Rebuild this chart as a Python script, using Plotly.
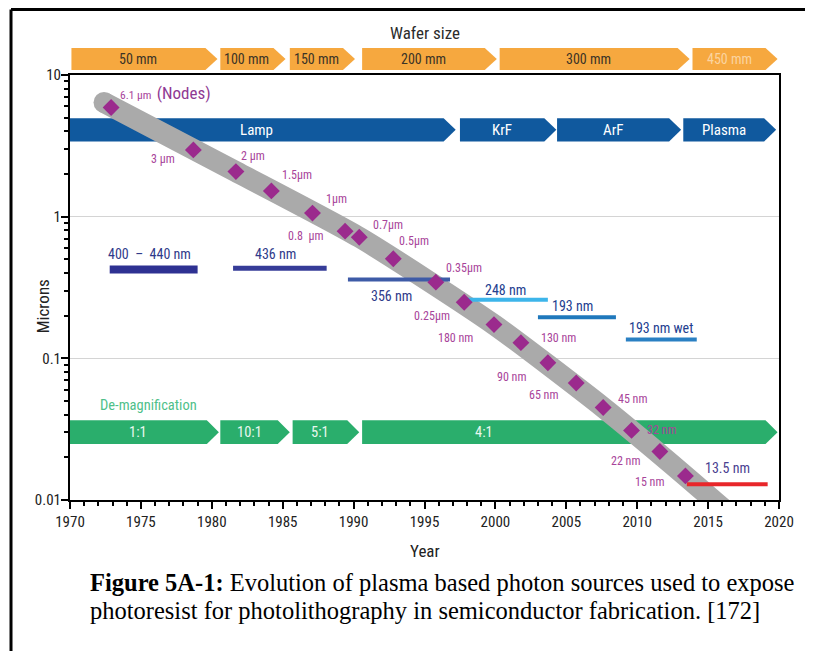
import math
import plotly.graph_objects as go

# ---------------- data ----------------
node_labels = ["6.1 µm", "3 µm", "2 µm", "1.5µm", "1µm", "0.8  µm", "0.7µm", "0.5µm", "0.35µm",
               "0.25µm", "180 nm", "130 nm", "90 nm", "65 nm", "45 nm", "32 nm", "22 nm", "15 nm"]
node_years = [1972.9, 1978.7, 1981.7, 1984.2, 1987.1, 1989.4, 1990.4, 1992.8, 1995.8,
              1997.8, 1999.9, 2001.8, 2003.7, 2005.7, 2007.6, 2009.6, 2011.6, 2013.4]
node_microns = [5.9, 2.96, 2.08, 1.52, 1.06, 0.79, 0.715, 0.504, 0.345,
                0.249, 0.173, 0.129, 0.093, 0.067, 0.045, 0.031, 0.022, 0.0148]

band_years = [1972.4, 1981.7, 1990.4, 1999.9, 2007.6, 2013.4, 2017.0]
band_microns = [6.4, 2.08, 0.715, 0.173, 0.045, 0.0148, 0.0072]

wafer_labels = ["50 mm", "100 mm", "150 mm", "200 mm", "300 mm", "450 mm"]
wafer_start = [1970.1, 1980.6, 1985.5, 1990.6, 2000.3, 2013.9]
wafer_end = [1980.4, 1985.2, 1990.1, 2000.1, 2013.7, 2019.9]

source_labels = ["Lamp", "KrF", "ArF", "Plasma"]
source_start = [1970.0, 1997.5, 2004.35, 2013.25]
source_end = [1997.2, 2004.3, 2013.1, 2019.8]

demag_labels = ["1:1", "10:1", "5:1", "4:1"]
demag_start = [1970.0, 1980.6, 1985.7, 1990.6]
demag_end = [1980.5, 1985.5, 1990.4, 2019.9]

wl_labels = ["400  –  440 nm", "436 nm", "356 nm", "248 nm", "193 nm", "193 nm wet", "13.5 nm"]
wl_start = [1972.8, 1981.5, 1989.6, 1997.6, 2003.0, 2009.2, 2013.5]
wl_end = [1979.0, 1988.1, 1996.8, 2003.7, 2008.5, 2014.2, 2019.2]
wl_microns = [0.424, 0.432, 0.36, 0.259, 0.195, 0.136, 0.0129]

x_tick_vals = [1970, 1975, 1980, 1985, 1990, 1995, 2000, 2005, 2010, 2015, 2020]
y_tick_vals = [0.01, 0.1, 1, 10]
y_tick_text = ["0.01", "0.1", "1", "10"]

caption_bold = "Figure 5A-1:"
caption_line1 = " Evolution of plasma based photon sources used to expose"
caption_line2 = "photoresist for photolithography in semiconductor fabrication. [172]"

# ---------------- styles ----------------
NARROW = "Liberation Sans Narrow, Arial Narrow, Roboto Condensed, DejaVu Sans Condensed, Liberation Sans, sans-serif"
SERIF = "Liberation Serif, Times New Roman, serif"
ORANGE = "#f6a83f"
BLUE = "#10599e"
GREEN = "#2aae6c"
PURPLE = "#9b2a8d"
PURPLE_TXT = "#a8449a"
GRAY = "#aaaaaa"

wl_colors = ["#2e3192", "#363c98", "#3e5ba7", "#3db5ea", "#1f78bc", "#2a80c3", "#e8262a"]
wl_widths = [8, 5, 4, 4, 4, 4, 4]
wl_text_colors = ["#2f3a8a", "#2f3a8a", "#2f3a8a", "#23408f", "#23408f", "#23408f", "#4a4090"]
wl_shift = [(-4, 15), (-4, 14), (-7, -16), (1, 10), (-4, 11), (0, 11), (0, 16)]

node_shift = [(7, 14), (-30, -9), (17, 16), (26, 16), (24, 14), (-39, -5), (29, 12), (21, 18),
              (28, 14), (-32, -14), (-38, -13), (38, 5), (-36, -14), (-33, -12), (29, 8),
              (30, 0), (-34, -10), (-36, -6)]

LAMP_ROW = (3.39, 4.96)
DEMAG_ROW = (0.0248, 0.0366)
WAFER_ROW = (1.0118, 1.0635)   # paper units
TIP = 0.85


def arrow_xy(x0, x1, ylo, yhi, tip=TIP):
    ymid = math.sqrt(ylo * yhi)
    return [x0, x1 - tip, x1, x1 - tip, x0, x0], [ylo, ylo, ymid, yhi, yhi, ylo]


def txt(**kw):
    d = dict(showarrow=False, xanchor="center", yanchor="middle")
    d.update(kw)
    return d


fig = go.Figure()

# source row (lamp etc.)
for s, e in zip(source_start, source_end):
    xs, ys = arrow_xy(s, e, *LAMP_ROW)
    fig.add_trace(go.Scatter(x=xs, y=ys, fill="toself", fillcolor=BLUE, mode="lines",
                             line=dict(width=0, color=BLUE), hoverinfo="skip", showlegend=False))

# de-magnification row
for s, e in zip(demag_start, demag_end):
    xs, ys = arrow_xy(s, e, *DEMAG_ROW)
    fig.add_trace(go.Scatter(x=xs, y=ys, fill="toself", fillcolor=GREEN, mode="lines",
                             line=dict(width=0, color=GREEN), hoverinfo="skip", showlegend=False))

# gray trend band
fig.add_trace(go.Scatter(x=band_years, y=band_microns, mode="lines",
                         line=dict(color=GRAY, width=21, shape="spline", smoothing=0.6),
                         hoverinfo="skip", showlegend=False))
fig.add_trace(go.Scatter(x=band_years[:1], y=band_microns[:1], mode="markers",
                         marker=dict(color=GRAY, size=21, line=dict(width=0)),
                         hoverinfo="skip", showlegend=False))

# wavelength bars
for s, e, v, c, w in zip(wl_start, wl_end, wl_microns, wl_colors, wl_widths):
    fig.add_trace(go.Scatter(x=[s, e], y=[v, v], mode="lines", line=dict(color=c, width=w),
                             hoverinfo="skip", showlegend=False))

# nodes
fig.add_trace(go.Scatter(x=node_years, y=node_microns, mode="markers",
                         marker=dict(symbol="diamond", size=13, color=PURPLE, line=dict(width=0)),
                         showlegend=False, text=node_labels, hoverinfo="text"))

ann = []
shapes = []

# wafer row shapes + labels
for i, (lab, s, e) in enumerate(zip(wafer_labels, wafer_start, wafer_end)):
    ylo, yhi = WAFER_ROW
    ym = (ylo + yhi) / 2
    path = (f"M {s},{ylo} L {e - TIP},{ylo} L {e},{ym} L {e - TIP},{yhi} L {s},{yhi} Z")
    shapes.append(dict(type="path", path=path, xref="x", yref="paper", fillcolor=ORANGE,
                       line=dict(width=0)))
    col = "#fbd4a0" if i == len(wafer_labels) - 1 else "#3b3326"
    ann.append(txt(x=(s + e - TIP) / 2, y=ym, xref="x", yref="paper", text=lab,
                   font=dict(family=NARROW, size=14, color=col)))

ann.append(txt(x=1995.0, y=1.0988, xref="x", yref="paper", text="Wafer size",
               font=dict(family=NARROW, size=17, color="#2b2b2b")))

# source labels
for lab, s, e in zip(source_labels, source_start, source_end):
    ann.append(txt(x=(s + e - TIP) / 2, y=math.log10(math.sqrt(LAMP_ROW[0] * LAMP_ROW[1])),
                   xref="x", yref="y", text=lab,
                   font=dict(family=NARROW, size=15, color="white")))

# demag labels
for lab, s, e in zip(demag_labels, demag_start, demag_end):
    cx = (s + e - TIP) / 2
    if lab == "4:1":
        cx = s + 8.6
    ann.append(txt(x=cx, y=math.log10(math.sqrt(DEMAG_ROW[0] * DEMAG_ROW[1])),
                   xref="x", yref="y", text=lab,
                   font=dict(family=NARROW, size=14.5, color="#e8f7ee")))
ann.append(txt(x=1972.0, y=math.log10(DEMAG_ROW[1]), xref="x", yref="y", text="De-magnification",
               xanchor="left", yanchor="bottom", yshift=4,
               font=dict(family=NARROW, size=14.5, color="#4fbf8a")))

# wavelength labels
for lab, s, e, v, tc, (dx, dy) in zip(wl_labels, wl_start, wl_end, wl_microns, wl_text_colors, wl_shift):
    ann.append(txt(x=(s + e) / 2, y=math.log10(v), xref="x", yref="y", text=lab,
                   xshift=dx, yshift=dy, font=dict(family=NARROW, size=14, color=tc)))

# node labels
for i, (lab, xv, yv, (dx, dy)) in enumerate(zip(node_labels, node_years, node_microns, node_shift)):
    if i == 0:
        ann.append(txt(x=xv, y=math.log10(yv), xref="x", yref="y",
                       text=lab + "  <span style='font-size:17px;color:#8f3a93'>(Nodes)</span>",
                       xanchor="left", xshift=dx, yshift=dy,
                       font=dict(family=NARROW, size=11.5, color=PURPLE_TXT)))
    else:
        ann.append(txt(x=xv, y=math.log10(yv), xref="x", yref="y", text=lab,
                       xshift=dx, yshift=dy,
                       font=dict(family=NARROW, size=12, color=PURPLE_TXT)))

# axis titles
ann.append(txt(x=0.5, y=-0.12, xref="paper", yref="paper", text="Year",
               font=dict(family=NARROW, size=17, color="#222")))
ann.append(txt(x=-0.038, y=0.456, xref="paper", yref="paper", text="Microns",
               textangle=-90, font=dict(family=NARROW, size=17, color="#222")))

# caption
ann.append(txt(x=0.0254, y=-0.193, xref="paper", yref="paper", xanchor="left",
               text=f"<b>{caption_bold}</b>{caption_line1}",
               font=dict(family=SERIF, size=24.5, color="black")))
ann.append(txt(x=0.0254, y=-0.259, xref="paper", yref="paper", xanchor="left",
               text=caption_line2,
               font=dict(family=SERIF, size=24.5, color="black")))

# outer page border (top + left)
shapes.append(dict(type="line", xref="paper", yref="paper", x0=-0.0832, x1=1.06, y0=1.154, y1=1.154,
                   line=dict(color="black", width=3)))
shapes.append(dict(type="line", xref="paper", yref="paper", x0=-0.0832, x1=-0.0832, y0=1.154, y1=-0.36,
                   line=dict(color="black", width=3)))

minor_y = [m * 10 ** d for d in (-2, -1, 0) for m in range(2, 10)]

fig.update_layout(
    width=805, height=643,
    margin=dict(l=62, r=34, t=67, b=151),
    paper_bgcolor="white", plot_bgcolor="white",
    shapes=shapes, annotations=ann,
    xaxis=dict(range=[1970, 2020], tickmode="array", tickvals=x_tick_vals,
               ticks="outside", ticklen=7, tickwidth=1.5, tickcolor="black",
               showline=True, linecolor="black", linewidth=2, mirror=True,
               showgrid=False, zeroline=False,
               tickfont=dict(family=NARROW, size=15, color="#222"),
               minor=dict(dtick=1, ticks="outside", ticklen=4, tickwidth=1.5, tickcolor="black", showgrid=False)),
    yaxis=dict(type="log", range=[-2, 1], tickmode="array", tickvals=y_tick_vals, ticktext=y_tick_text,
               ticks="outside", ticklen=7, tickwidth=1.5, tickcolor="black", ticklabelstandoff=-3,
               showline=True, linecolor="black", linewidth=2, mirror=True,
               showgrid=True, gridcolor="#d4d4d4", gridwidth=1, zeroline=False,
               tickfont=dict(family=NARROW, size=15, color="#222"),
               minor=dict(tickmode="array", tickvals=minor_y, ticks="outside", ticklen=4, tickwidth=1.5,
                          tickcolor="black", showgrid=False)),
)

fig.write_html("out.html")
